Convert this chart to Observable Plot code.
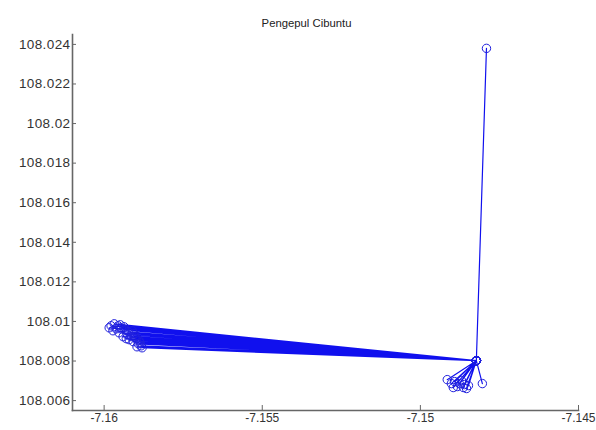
<!DOCTYPE html>
<html>
<head>
<meta charset="utf-8">
<script src="https://cdn.jsdelivr.net/npm/d3@7"></script>
<script src="https://cdn.jsdelivr.net/npm/@observablehq/plot@0.6"></script>
<style>
  html, body { margin: 0; padding: 0; background: #fff; }
  #chart { width: 596px; height: 430px; }
  #chart svg g[aria-label="y-axis tick label"] text { letter-spacing: 0.4px; }
</style>
</head>
<body>
<div id="chart"></div>
<script>
const title = "Pengepul Cibuntu";

// GPS track in order (x, y)
const trackX = [
  -7.14791, -7.14823,
  -7.15984, -7.14823, -7.15968, -7.14823, -7.15956, -7.14823, -7.15946, -7.14823,
  -7.15934, -7.14823, -7.15972, -7.14823, -7.15953, -7.14823, -7.15927, -7.14823,
  -7.15915, -7.14823, -7.15899, -7.14823, -7.15908, -7.14823, -7.15892, -7.14823,
  -7.15883, -7.14823, -7.15921, -7.14823, -7.15940, -7.14823, -7.15962, -7.14823,
  -7.15905, -7.14823, -7.15889, -7.14823,
  -7.15978, -7.14823, -7.15949, -7.14823, -7.15937, -7.14823, -7.15924, -7.14823,
  -7.15911, -7.14823, -7.15902, -7.14823, -7.15886, -7.14823, -7.15880, -7.14823,
  -7.15896, -7.14823, -7.15930, -7.14823,
  -7.14915, -7.14823, -7.14902, -7.14823, -7.14892, -7.14823, -7.14883, -7.14823,
  -7.14877, -7.14823, -7.14864, -7.14823, -7.14854, -7.14823, -7.14870, -7.14823,
  -7.14861, -7.14823, -7.14896, -7.14823, -7.14848, -7.14823, -7.14804
];
const trackY = [
  108.02380, 108.00802,
  108.00968, 108.00802, 108.00988, 108.00802, 108.00978, 108.00802, 108.00968, 108.00802,
  108.00958, 108.00802, 108.00953, 108.00802, 108.00943, 108.00802, 108.00933, 108.00802,
  108.00923, 108.00802, 108.00913, 108.00802, 108.00898, 108.00802, 108.00887, 108.00802,
  108.00877, 108.00802, 108.00908, 108.00802, 108.00923, 108.00802, 108.00963, 108.00802,
  108.00938, 108.00802, 108.00903, 108.00802,
  108.00978, 108.00802, 108.00983, 108.00802, 108.00973, 108.00802, 108.00948, 108.00802,
  108.00953, 108.00802, 108.00923, 108.00802, 108.00892, 108.00802, 108.00867, 108.00802,
  108.00872, 108.00802, 108.00913, 108.00802,
  108.00706, 108.00802, 108.00686, 108.00802, 108.00696, 108.00802, 108.00671, 108.00802,
  108.00686, 108.00802, 108.00666, 108.00802, 108.00661, 108.00802, 108.00701, 108.00802,
  108.00681, 108.00802, 108.00666, 108.00802, 108.00676, 108.00802, 108.00686
];

const xTicks = [-7.16, -7.155, -7.15, -7.145];
const yTicks = [108.006, 108.008, 108.01, 108.012, 108.014, 108.016, 108.018, 108.02, 108.022, 108.024];
const xDomain = [-7.161, -7.145];
const yDomain = [108.0055, 108.0245];

const data = trackX.map((x, i) => ({x, y: trackY[i]}));
const fmt = d => String(+d.toFixed(3));

const chart = Plot.plot({
  width: 596,
  height: 430,
  marginLeft: 72,
  marginRight: 18,
  marginTop: 34,
  marginBottom: 20,
  style: {fontFamily: "'Liberation Sans', Arial, Helvetica, sans-serif", fontSize: "13px", background: "#fff", color: "#333"},
  x: {domain: xDomain, label: null},
  y: {domain: yDomain, label: null},
  marks: [
    Plot.axisX({ticks: xTicks, tickFormat: fmt, tickSize: -5, tickPadding: 8, stroke: "#666", fill: "#333", fontSize: 12, label: null}),
    Plot.axisY({ticks: yTicks, tickFormat: fmt, tickSize: -4, tickPadding: 6, stroke: "#666", fill: "#333", fontSize: 13.5, label: null}),
    Plot.frame({anchor: "left", stroke: "#666", strokeWidth: 1.6}),
    Plot.frame({anchor: "bottom", stroke: "#666", strokeWidth: 1.6}),
    Plot.line(data, {x: "x", y: "y", stroke: "#1010ee", strokeWidth: 1.2, curve: "linear"}),
    Plot.dot(data, {x: "x", y: "y", r: 4.2, stroke: "#2020dd", strokeWidth: 1, fill: "none"}),
    Plot.text([title], {frameAnchor: "top", dx: -19, dy: -16, fontSize: 11.3, fill: "#222"})
  ]
});
document.getElementById("chart").appendChild(chart);
</script>
</body>
</html>
